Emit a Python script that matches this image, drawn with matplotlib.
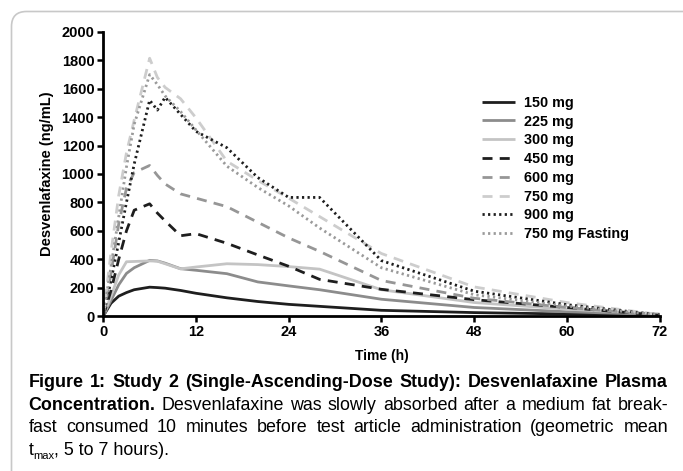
import matplotlib
matplotlib.use("Agg")
import matplotlib.pyplot as plt
from matplotlib.patches import FancyBboxPatch

plt.rcParams['font.family'] = ['Liberation Sans', 'DejaVu Sans']

# ---- data ----
hours = [0, 1, 2, 3, 4, 6, 7, 8, 10, 12, 16, 20, 24, 28, 36, 48, 60, 72]
c150 = [0, 90, 140, 165, 185, 203, 200, 196, 180, 160, 128, 102, 82, 68, 40, 24, 14, 8]
c225 = [0, 110, 220, 300, 340, 392, 388, 372, 333, 322, 298, 240, 212, 185, 118, 60, 30, 10]
c300 = [0, 140, 290, 382, 384, 388, 386, 368, 332, 345, 368, 362, 348, 330, 185, 95, 48, 15]
c450 = [0, 180, 400, 600, 745, 790, 725, 670, 565, 580, 512, 430, 350, 258, 188, 115, 60, 5]
c600 = [0, 300, 650, 900, 1010, 1060, 990, 930, 860, 830, 770, 660, 550, 455, 250, 125, 60, 8]
c750 = [0, 450, 850, 1150, 1380, 1815, 1680, 1610, 1530, 1395, 1090, 955, 830, 700, 440, 205, 95, 10]
c900 = [0, 250, 520, 800, 1070, 1520, 1450, 1540, 1420, 1300, 1185, 975, 835, 835, 390, 175, 80, 8]
c750f = [0, 350, 700, 1050, 1350, 1700, 1630, 1550, 1440, 1310, 1055, 905, 775, 620, 340, 150, 70, 8]

labels = ['150 mg', '225 mg', '300 mg', '450 mg', '600 mg', '750 mg', '900 mg', '750 mg Fasting']
series = [c150, c225, c300, c450, c600, c750, c900, c750f]
colors = ['#1e1e1e', '#8c8c8c', '#c4c4c4', '#1e1e1e', '#969696', '#cdcdcd', '#1e1e1e', '#9a9a9a']
styles = ['-', '-', '-', (0, (3.6, 2.6)), (0, (3.6, 2.6)), (0, (3.6, 2.6)), (0, (0.8, 1.2)), (0, (0.8, 1.2))]

xticks = [0, 12, 24, 36, 48, 60, 72]
yticks = list(range(0, 2001, 200))

W, H = 683, 471
fig = plt.figure(figsize=(W / 100, H / 100), dpi=100)

# rounded frame (extends past right and bottom edges)
frame = FancyBboxPatch((11.5 / W, -0.5), 1.2, 1 - 11.5 / H + 0.5,
                       boxstyle="round,pad=0,rounding_size=0.022",
                       transform=fig.transFigure, facecolor='none', edgecolor='#c8c8c8',
                       lw=1.2, mutation_aspect=W / H)
fig.patches.append(frame)

ax = fig.add_axes([103.3 / W, 1 - 316 / H, (659.5 - 103.3) / W, (316 - 32) / H])
for y, lab, col, ls in zip(series, labels, colors, styles):
    ax.plot(hours, y, color=col, linestyle=ls, lw=2.0, label=lab, solid_capstyle='butt')

ax.set_xlim(0, 72)
ax.set_ylim(0, 2000)
ax.set_xticks(xticks)
ax.set_yticks(yticks)
ax.spines['top'].set_visible(False)
ax.spines['right'].set_visible(False)
for s in ('left', 'bottom'):
    ax.spines[s].set_linewidth(2.0)
ax.tick_params(axis='both', direction='out', length=4, width=1.8, labelsize=10.5, pad=2.5)
for t in ax.get_xticklabels() + ax.get_yticklabels():
    t.set_fontweight('bold')
ax.set_xlabel('Time (h)', fontsize=10, fontweight='bold', labelpad=7)
ax.set_ylabel('Desvenlafaxine (ng/mL)', fontsize=10.5, fontweight='bold', labelpad=5)
ax.patch.set_alpha(0)

leg = ax.legend(loc='upper left', bbox_to_anchor=((476 - 103.3) / (659.5 - 103.3), (316 - 90) / (316 - 32)),
                frameon=False, prop={'weight': 'bold', 'size': 10.4}, handlelength=2.3,
                handletextpad=0.6, labelspacing=0.33, borderaxespad=0)

# ---- caption with justification ----
cap_lines = [
    [("Figure 1: Study 2 (Single-Ascending-Dose Study): Desvenlafaxine Plasma", 'bold')],
    [("Concentration.", 'bold'), ("Desvenlafaxine was slowly absorbed after a medium fat break-", 'normal')],
    [("fast consumed 10 minutes before test article administration (geometric mean", 'normal')],
]
x_left, x_right = 28.5, 668
ys = [387, 409.5, 432]
fs = 12.9
fig.canvas.draw()
renderer = fig.canvas.get_renderer()


def width_of(txt, weight, size=fs):
    t = fig.text(0, 0, txt, fontsize=size, fontweight=weight)
    w = t.get_window_extent(renderer).width
    t.remove()
    return w


for segs, yp in zip(cap_lines, ys):
    words = []
    for txt, wt in segs:
        for wd in txt.split(' '):
            words.append((wd, wt))
    widths = [width_of(w, wt) for w, wt in words]
    gap = (x_right - x_left - sum(widths)) / (len(words) - 1)
    x = x_left
    for (w, wt), wd in zip(words, widths):
        fig.text(x / W, 1 - yp / H, w, fontsize=fs, fontweight=wt, va='baseline', ha='left')
        x += wd + gap

# last line: t_max, 5 to 7 hours).
base4 = 455
fig.text(x_left / W, 1 - base4 / H, "t", fontsize=fs, va='baseline', ha='left')
tw = width_of("t", 'normal')
fig.text((x_left + tw) / W, 1 - (base4 + 4) / H, "max", fontsize=8, va='baseline', ha='left')
mw = width_of("max", 'normal', 8)
fig.text((x_left + tw + mw) / W, 1 - base4 / H, ", 5 to 7 hours).", fontsize=fs, va='baseline', ha='left')

fig.savefig('out.png', dpi=100)
